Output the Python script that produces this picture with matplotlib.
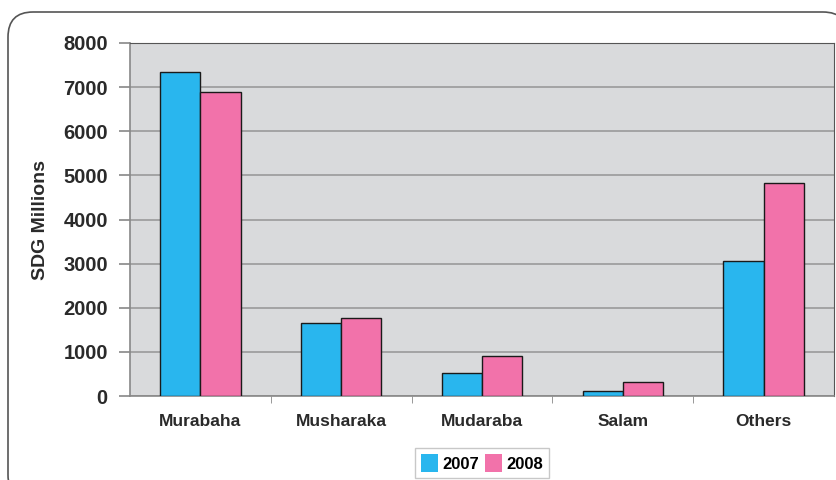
import numpy as np
import matplotlib
matplotlib.use("Agg")
import matplotlib.pyplot as plt
from matplotlib.patches import FancyBboxPatch

categories = ["Murabaha", "Musharaka", "Mudaraba", "Salam", "Others"]
vals_2007 = [7340, 1660, 520, 120, 3060]
vals_2008 = [6890, 1770, 900, 320, 4830]
series_labels = ["2007", "2008"]
yticks = [0, 1000, 2000, 3000, 4000, 5000, 6000, 7000, 8000]

plt.rcParams["font.family"] = ["Liberation Sans", "DejaVu Sans"]

fig = plt.figure(figsize=(8.36, 4.8), dpi=100)
W, H = 836, 480

# rounded frame around the whole chart (runs off the right and bottom edges)
frame = FancyBboxPatch((8 / W, -20 / H), 840 / W, (468 + 20) / H,
                       boxstyle="round,pad=0,rounding_size=0.03",
                       transform=fig.transFigure, facecolor="white",
                       edgecolor="#555555", linewidth=1.2, zorder=-5,
                       mutation_aspect=W / H)
fig.patches.append(frame)

ax = fig.add_axes([130 / W, 1 - 396 / H, (834 - 130) / W, (396 - 43) / H])
ax.set_facecolor("#d9dadc")

x = np.arange(len(categories))
w = 0.285
ax.bar(x - w / 2, vals_2007, w, color="#29b6ee", edgecolor="#1a1a1a",
       linewidth=1.0, label=series_labels[0], zorder=3)
ax.bar(x + w / 2, vals_2008, w, color="#f272aa", edgecolor="#1a1a1a",
       linewidth=1.0, label=series_labels[1], zorder=3)

ax.set_xlim(-0.5, len(categories) - 0.5)
ax.set_ylim(0, 8000)
ax.set_yticks(yticks)
ax.set_yticklabels([str(t) for t in yticks], fontsize=14.5, fontweight="bold",
                   color="#2a2a2a")
ax.yaxis.grid(True, color="#9a9a9a", linewidth=1.2, zorder=1)
ax.set_axisbelow(True)

ax.set_xticks(x)
ax.set_xticklabels(categories, fontsize=12.5, fontweight="bold", color="#2a2a2a")
ax.tick_params(axis="x", length=0, pad=13)
ax.set_xticks(np.arange(0.5, len(categories) - 0.5), minor=True)
ax.tick_params(axis="x", which="minor", length=5, color="#888888")
ax.tick_params(axis="y", length=8, color="#888888", width=1.2, pad=8)

for side in ["left", "bottom"]:
    ax.spines[side].set_color("#888888")
    ax.spines[side].set_linewidth(1.2)
ax.spines["top"].set_color("#555555")
ax.spines["right"].set_color("#555555")

ax.set_ylabel("SDG Millions", fontsize=14, fontweight="bold", color="#2a2a2a",
              labelpad=10)

leg = ax.legend(loc="upper center", bbox_to_anchor=(0.5, -0.148), ncol=2,
                frameon=True, fancybox=False, edgecolor="#bbbbbb",
                prop={"weight": "bold", "size": 12}, handlelength=1.0,
                handleheight=1.3, handletextpad=0.25, columnspacing=0.4,
                borderpad=0.35, borderaxespad=0)
for h in leg.legend_handles:
    h.set_edgecolor("none")

fig.savefig("out.png", dpi=100)
